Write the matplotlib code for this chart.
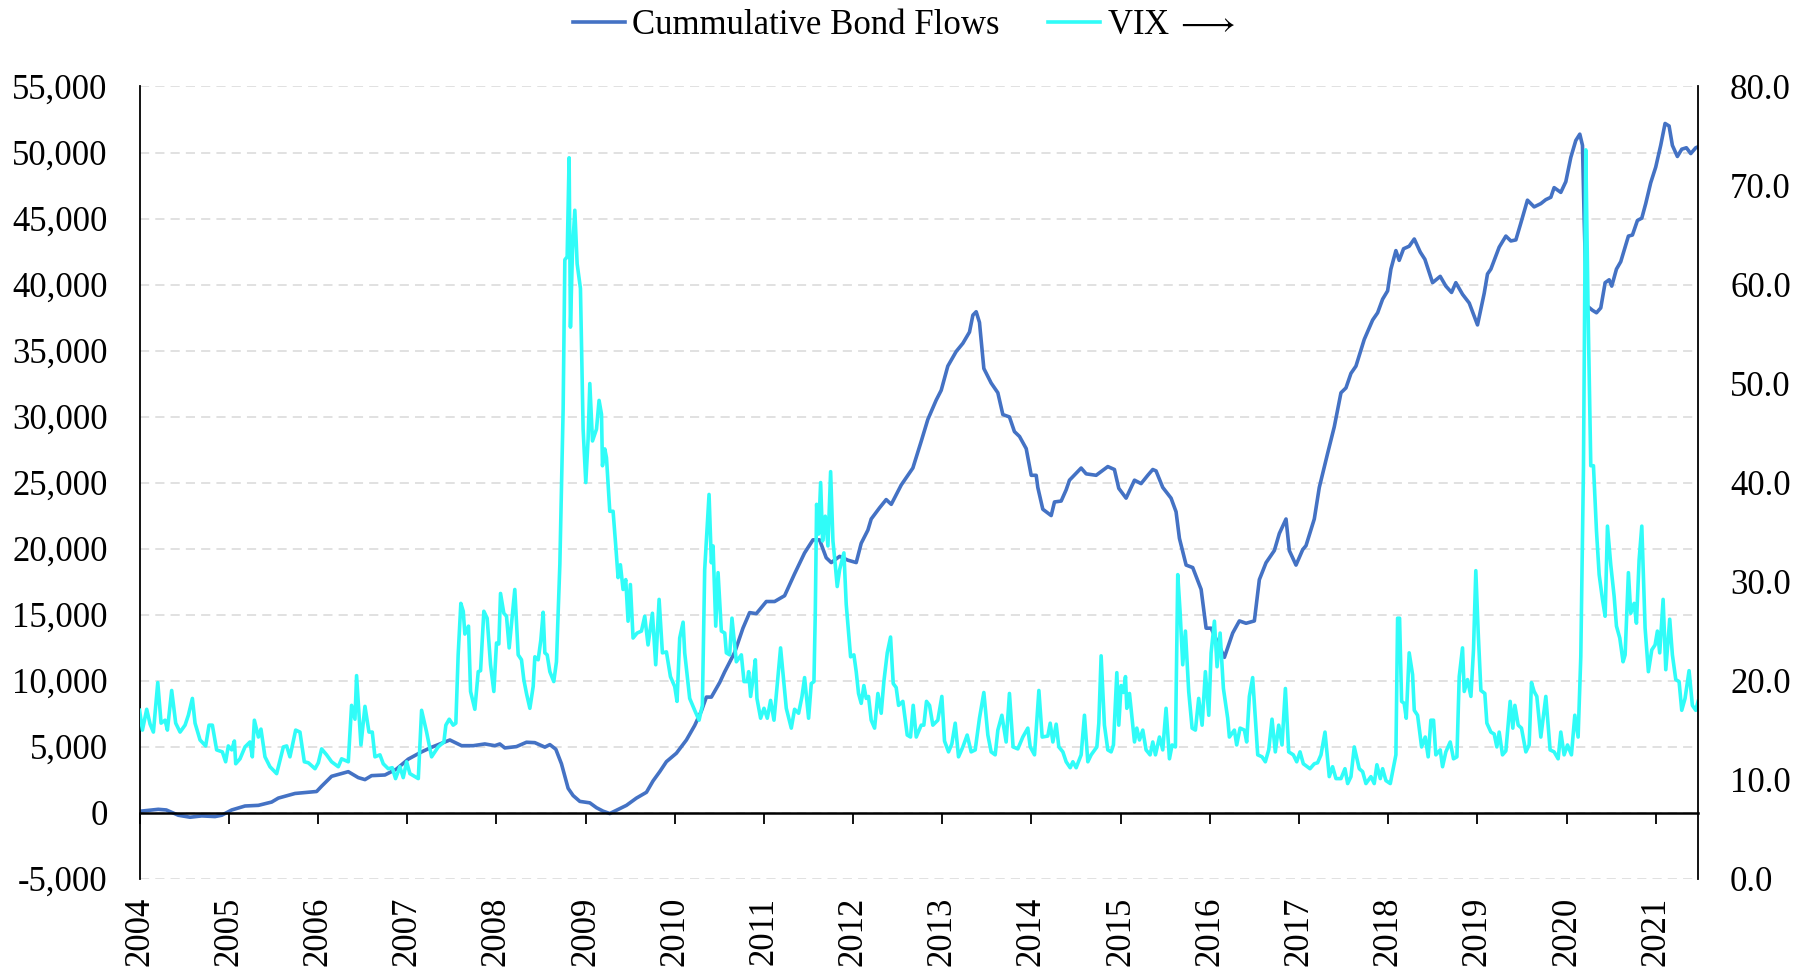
import matplotlib.pyplot as plt
from matplotlib.ticker import FuncFormatter, MultipleLocator

plt.rcParams['font.family'] = ['Liberation Serif', 'DejaVu Serif']
plt.rcParams['mathtext.fontset'] = 'stix'

# cumulative bond flows (left axis), x in decimal years
bond_years = [
    2004.000, 2004.210, 2004.300, 2004.435, 2004.566, 2004.697, 2004.846, 2004.921,
    2005.033, 2005.182, 2005.332, 2005.481, 2005.556, 2005.743, 2005.985, 2006.041,
    2006.153, 2006.340, 2006.452, 2006.527, 2006.601, 2006.751, 2006.881, 2007.012,
    2007.162, 2007.274, 2007.479, 2007.610, 2007.741, 2007.871, 2007.983, 2008.039,
    2008.095, 2008.226, 2008.338, 2008.431, 2008.544, 2008.600, 2008.667, 2008.730,
    2008.805, 2008.861, 2008.936, 2009.048, 2009.123, 2009.197, 2009.272, 2009.347,
    2009.459, 2009.571, 2009.683, 2009.757, 2009.832, 2009.907, 2010.019, 2010.131,
    2010.224, 2010.299, 2010.355, 2010.411, 2010.504, 2010.560, 2010.672, 2010.765,
    2010.840, 2010.915, 2011.027, 2011.120, 2011.232, 2011.344, 2011.456, 2011.550,
    2011.624, 2011.699, 2011.755, 2011.849, 2011.942, 2012.035, 2012.091, 2012.166,
    2012.203, 2012.297, 2012.371, 2012.428, 2012.540, 2012.670, 2012.764, 2012.838,
    2012.932, 2012.988, 2013.062, 2013.156, 2013.231, 2013.305, 2013.343, 2013.380,
    2013.417, 2013.466, 2013.548, 2013.623, 2013.679, 2013.753, 2013.809, 2013.866,
    2013.941, 2013.997, 2014.053, 2014.071, 2014.127, 2014.221, 2014.258, 2014.333,
    2014.389, 2014.426, 2014.557, 2014.613, 2014.725, 2014.856, 2014.930, 2014.979,
    2015.061, 2015.155, 2015.229, 2015.304, 2015.360, 2015.397, 2015.472, 2015.565,
    2015.621, 2015.659, 2015.734, 2015.808, 2015.902, 2015.958, 2016.014, 2016.163,
    2016.256, 2016.331, 2016.406, 2016.499, 2016.555, 2016.630, 2016.723, 2016.779,
    2016.854, 2016.891, 2016.966, 2017.041, 2017.078, 2017.171, 2017.227, 2017.320,
    2017.395, 2017.470, 2017.526, 2017.582, 2017.638, 2017.731, 2017.825, 2017.881,
    2017.937, 2017.993, 2018.030, 2018.086, 2018.123, 2018.172, 2018.235, 2018.292,
    2018.359, 2018.411, 2018.497, 2018.583, 2018.646, 2018.710, 2018.758, 2018.833,
    2018.908, 2019.001, 2019.076, 2019.113, 2019.151, 2019.244, 2019.319, 2019.375,
    2019.431, 2019.487, 2019.561, 2019.636, 2019.711, 2019.767, 2019.823, 2019.860,
    2019.935, 2019.991, 2020.047, 2020.103, 2020.148, 2020.178, 2020.196, 2020.223,
    2020.290, 2020.335, 2020.383, 2020.432, 2020.477, 2020.506, 2020.559, 2020.607,
    2020.656, 2020.693, 2020.738, 2020.794, 2020.843, 2020.887, 2020.943, 2020.999,
    2021.055, 2021.104, 2021.149, 2021.186, 2021.242, 2021.291, 2021.343, 2021.392,
    2021.448, 2021.474,
]
bond_flows = [
    100, 250, 200, -200, -350, -250, -300, -200,
    200, 500, 550, 800, 1100, 1450, 1600, 2000,
    2750, 3100, 2650, 2500, 2800, 2850, 3300, 4050,
    4600, 4950, 5500, 5070, 5070, 5200, 5070, 5200,
    4900, 5000, 5330, 5300, 4960, 5150, 4800, 3700,
    1840, 1290, 850, 740, 370, 110, -70, 180,
    550, 1100, 1540, 2400, 3100, 3860, 4500, 5500,
    6600, 7700, 8750, 8750, 9850, 10660, 12130, 13970,
    15150, 15070, 15990, 15990, 16430, 18090, 19670, 20660,
    20660, 19300, 18940, 19410, 19120, 18940, 20400, 21400,
    22240, 23090, 23710, 23350, 24820, 26100, 28130, 29780,
    31250, 31990, 33820, 34930, 35550, 36400, 37680, 37940,
    37130, 33640, 32540, 31800, 30150, 29970, 28860, 28490,
    27570, 25550, 25550, 24630, 22980, 22500, 23530, 23600,
    24450, 25180, 26100, 25660, 25550, 26210, 25990, 24560,
    23820, 25180, 24920, 25550, 25990, 25880, 24630, 23820,
    22790, 20770, 18750, 18560, 16910, 13970, 13970, 11760,
    13600, 14520, 14340, 14520, 17650, 18930, 19850, 21140,
    22240, 19850, 18750, 19920, 20220, 22240, 24630, 27200,
    29220, 31800, 32170, 33270, 33820, 35840, 37310, 37860,
    38890, 39520, 41170, 42570, 41830, 42710, 42900, 43450,
    42460, 41910, 40140, 40620, 39880, 39400, 40140, 39260,
    38600, 36940, 39330, 40800, 41170, 42830, 43670, 43300,
    43380, 44660, 46390, 45880, 46130, 46430, 46610, 47340,
    46980, 47790, 49630, 50910, 51390, 50540, 45200, 38420,
    38050, 37860, 38230, 40140, 40360, 39880, 41170, 41730,
    42830, 43670, 43750, 44850, 45030, 46130, 47710, 48890,
    50540, 52200, 52010, 50540, 49700, 50250, 50360, 49920,
    50360, 50430,
]

# VIX (right axis)
vix_years = [
    2004.000, 2004.032, 2004.080, 2004.118, 2004.155, 2004.204, 2004.241, 2004.286,
    2004.312, 2004.360, 2004.405, 2004.454, 2004.510, 2004.547, 2004.592, 2004.622,
    2004.678, 2004.741, 2004.779, 2004.816, 2004.864, 2004.928, 2004.965, 2004.995,
    2005.033, 2005.063, 2005.078, 2005.126, 2005.182, 2005.238, 2005.264, 2005.287,
    2005.332, 2005.361, 2005.406, 2005.462, 2005.537, 2005.612, 2005.649, 2005.686,
    2005.750, 2005.798, 2005.847, 2005.892, 2005.967, 2006.004, 2006.041, 2006.097,
    2006.153, 2006.228, 2006.265, 2006.340, 2006.377, 2006.415, 2006.433, 2006.482,
    2006.527, 2006.572, 2006.609, 2006.639, 2006.695, 2006.732, 2006.788, 2006.833,
    2006.870, 2006.919, 2006.956, 2006.994, 2007.031, 2007.125, 2007.162, 2007.218,
    2007.274, 2007.348, 2007.412, 2007.434, 2007.472, 2007.516, 2007.546, 2007.572,
    2007.602, 2007.629, 2007.647, 2007.688, 2007.711, 2007.759, 2007.797, 2007.823,
    2007.860, 2007.897, 2007.935, 2007.972, 2008.002, 2008.028, 2008.047, 2008.084,
    2008.114, 2008.144, 2008.207, 2008.245, 2008.282, 2008.308, 2008.338, 2008.376,
    2008.413, 2008.432, 2008.469, 2008.499, 2008.525, 2008.544, 2008.570, 2008.600,
    2008.644, 2008.674, 2008.712, 2008.749, 2008.768, 2008.794, 2008.816, 2008.831,
    2008.854, 2008.880, 2008.906, 2008.943, 2008.973, 2009.003, 2009.029, 2009.048,
    2009.078, 2009.123, 2009.152, 2009.179, 2009.190, 2009.216, 2009.235, 2009.272,
    2009.309, 2009.339, 2009.365, 2009.391, 2009.421, 2009.451, 2009.477, 2009.503,
    2009.533, 2009.578, 2009.627, 2009.664, 2009.701, 2009.750, 2009.787, 2009.825,
    2009.862, 2009.907, 2009.952, 2010.000, 2010.026, 2010.056, 2010.094, 2010.112,
    2010.168, 2010.224, 2010.273, 2010.310, 2010.336, 2010.385, 2010.411, 2010.430,
    2010.460, 2010.486, 2010.523, 2010.561, 2010.579, 2010.616, 2010.642, 2010.691,
    2010.747, 2010.777, 2010.814, 2010.829, 2010.851, 2010.877, 2010.904, 2010.922,
    2010.963, 2011.001, 2011.038, 2011.075, 2011.113, 2011.150, 2011.187, 2011.225,
    2011.251, 2011.307, 2011.344, 2011.389, 2011.427, 2011.456, 2011.501, 2011.531,
    2011.561, 2011.576, 2011.591, 2011.613, 2011.636, 2011.658, 2011.688, 2011.718,
    2011.748, 2011.774, 2011.800, 2011.822, 2011.849, 2011.897, 2011.923, 2011.972,
    2012.009, 2012.035, 2012.061, 2012.091, 2012.121, 2012.147, 2012.173, 2012.203,
    2012.241, 2012.278, 2012.315, 2012.345, 2012.383, 2012.420, 2012.450, 2012.483,
    2012.510, 2012.558, 2012.607, 2012.644, 2012.674, 2012.708, 2012.764, 2012.793,
    2012.823, 2012.857, 2012.894, 2012.950, 2012.995, 2013.025, 2013.070, 2013.107,
    2013.145, 2013.182, 2013.231, 2013.279, 2013.324, 2013.369, 2013.417, 2013.466,
    2013.511, 2013.548, 2013.593, 2013.623, 2013.668, 2013.716, 2013.753, 2013.794,
    2013.847, 2013.903, 2013.959, 2013.986, 2014.034, 2014.083, 2014.120, 2014.183,
    2014.210, 2014.240, 2014.277, 2014.307, 2014.352, 2014.389, 2014.434, 2014.464,
    2014.501, 2014.557, 2014.594, 2014.632, 2014.669, 2014.733, 2014.755, 2014.781,
    2014.818, 2014.856, 2014.893, 2014.919, 2014.957, 2014.979, 2015.005, 2015.031,
    2015.054, 2015.069, 2015.099, 2015.155, 2015.181, 2015.211, 2015.248, 2015.285,
    2015.330, 2015.360, 2015.390, 2015.435, 2015.472, 2015.509, 2015.547, 2015.577,
    2015.614, 2015.640, 2015.666, 2015.696, 2015.726, 2015.763, 2015.801, 2015.838,
    2015.875, 2015.913, 2015.950, 2015.988, 2016.014, 2016.051, 2016.081, 2016.115,
    2016.152, 2016.200, 2016.219, 2016.275, 2016.301, 2016.339, 2016.387, 2016.413,
    2016.443, 2016.480, 2016.537, 2016.585, 2016.622, 2016.660, 2016.697, 2016.734,
    2016.772, 2016.809, 2016.847, 2016.884, 2016.936, 2016.974, 2017.011, 2017.048,
    2017.123, 2017.171, 2017.208, 2017.246, 2017.291, 2017.339, 2017.376, 2017.414,
    2017.470, 2017.515, 2017.545, 2017.582, 2017.619, 2017.675, 2017.713, 2017.750,
    2017.806, 2017.843, 2017.873, 2017.911, 2017.937, 2017.974, 2018.023, 2018.060,
    2018.086, 2018.105, 2018.127, 2018.150, 2018.179, 2018.202, 2018.235, 2018.273,
    2018.292, 2018.329, 2018.374, 2018.415, 2018.448, 2018.478, 2018.508, 2018.534,
    2018.583, 2018.609, 2018.646, 2018.695, 2018.732, 2018.770, 2018.796, 2018.833,
    2018.852, 2018.889, 2018.927, 2018.956, 2018.982, 2019.009, 2019.039, 2019.083,
    2019.106, 2019.151, 2019.188, 2019.218, 2019.244, 2019.281, 2019.319, 2019.367,
    2019.397, 2019.420, 2019.457, 2019.494, 2019.543, 2019.580, 2019.606, 2019.636,
    2019.666, 2019.711, 2019.767, 2019.815, 2019.860, 2019.905, 2019.935, 2019.972,
    2020.010, 2020.054, 2020.092, 2020.129, 2020.159, 2020.189, 2020.215, 2020.241,
    2020.271, 2020.301, 2020.335, 2020.365, 2020.402, 2020.432, 2020.458, 2020.495,
    2020.533, 2020.559, 2020.596, 2020.633, 2020.656, 2020.693, 2020.719, 2020.757,
    2020.783, 2020.813, 2020.843, 2020.880, 2020.917, 2020.955, 2020.992, 2021.018,
    2021.044, 2021.082, 2021.112, 2021.156, 2021.186, 2021.224, 2021.261, 2021.291,
    2021.328, 2021.373, 2021.410, 2021.448, 2021.474,
]
vix = [
    17.0, 15.0, 17.1, 15.6, 14.8, 19.8, 15.7, 16.0,
    15.0, 19.0, 15.7, 14.8, 15.5, 16.5, 18.2, 15.7,
    14.0, 13.4, 15.5, 15.5, 13.0, 12.8, 11.8, 13.4,
    13.0, 13.9, 11.6, 12.1, 13.3, 13.8, 12.3, 16.0,
    14.3, 15.1, 12.3, 11.3, 10.6, 13.3, 13.4, 12.3,
    15.0, 14.8, 11.8, 11.7, 11.1, 11.7, 13.1, 12.5,
    11.8, 11.3, 12.1, 11.8, 17.5, 16.1, 20.5, 13.5,
    17.4, 14.8, 14.8, 12.3, 12.5, 11.6, 11.1, 11.2,
    10.1, 11.3, 10.2, 11.8, 10.6, 10.1, 17.0, 14.8,
    12.3, 13.3, 13.8, 15.5, 16.1, 15.5, 15.7, 22.6,
    27.8, 27.0, 24.7, 25.5, 18.9, 17.1, 20.9, 21.0,
    27.0, 26.3, 21.6, 18.9, 23.8, 23.7, 28.8, 26.8,
    26.5, 23.3, 29.2, 22.6, 22.1, 20.1, 18.7, 17.2,
    19.4, 22.4, 22.1, 24.1, 26.9, 22.8, 22.6, 20.9,
    19.9, 21.9, 31.7, 47.4, 62.5, 62.8, 72.8, 55.7,
    63.5, 67.5, 62.1, 59.6, 45.4, 40.0, 44.4, 50.0,
    44.2, 45.4, 48.3, 46.9, 41.7, 43.4, 42.5, 37.1,
    37.1, 33.6, 30.4, 31.7, 29.2, 30.2, 26.0, 29.7,
    24.3, 24.8, 25.0, 26.5, 23.6, 26.8, 21.6, 28.2,
    22.8, 22.9, 20.4, 19.4, 17.9, 24.3, 25.9, 22.8,
    18.2, 17.0, 16.0, 17.5, 31.2, 38.8, 31.9, 33.6,
    25.5, 30.9, 25.0, 24.8, 22.8, 22.6, 26.3, 21.9,
    22.6, 19.9, 19.9, 20.9, 18.4, 20.1, 22.1, 18.2,
    16.2, 17.2, 16.2, 18.0, 16.0, 19.7, 23.3, 19.7,
    17.2, 15.2, 17.1, 16.7, 18.4, 20.3, 16.2, 19.7,
    19.9, 26.8, 37.8, 34.8, 40.0, 34.1, 36.6, 33.6,
    41.1, 34.1, 31.7, 29.5, 31.2, 32.9, 27.7, 22.4,
    22.6, 20.9, 18.7, 17.7, 19.5, 18.2, 18.4, 16.0,
    15.2, 18.7, 16.7, 19.9, 22.8, 24.4, 19.7, 19.3,
    17.5, 17.9, 14.5, 14.3, 17.5, 14.3, 15.5, 15.5,
    17.9, 17.5, 15.5, 16.0, 18.4, 13.9, 12.8, 13.6,
    15.7, 12.3, 13.3, 14.5, 12.8, 13.0, 16.2, 18.8,
    14.5, 12.8, 12.5, 15.0, 16.5, 13.8, 18.7, 13.3,
    13.1, 14.3, 15.2, 13.3, 12.5, 19.0, 14.3, 14.4,
    15.7, 13.8, 15.6, 13.3, 12.8, 11.8, 11.2, 11.8,
    11.2, 12.5, 16.5, 11.8, 12.5, 13.3, 15.7, 22.5,
    15.5, 13.0, 12.8, 13.5, 20.8, 15.5, 19.5, 18.8,
    20.4, 17.2, 18.7, 13.8, 15.2, 14.0, 15.0, 13.0,
    12.5, 13.8, 12.5, 14.3, 13.0, 17.2, 12.1, 13.5,
    13.3, 30.7, 27.0, 21.6, 25.0, 18.9, 15.2, 15.0,
    18.2, 15.5, 20.9, 16.5, 22.8, 26.0, 21.4, 24.8,
    19.2, 16.2, 14.3, 15.0, 13.5, 15.2, 15.0, 13.8,
    18.4, 20.3, 12.5, 12.3, 11.8, 13.0, 16.1, 12.8,
    15.5, 13.5, 19.2, 12.8, 12.5, 11.8, 12.8, 11.6,
    11.1, 11.6, 11.7, 12.5, 14.8, 10.3, 11.3, 10.1,
    10.1, 11.1, 9.6, 10.3, 13.3, 11.1, 10.8, 9.6,
    10.3, 9.6, 11.5, 10.1, 11.1, 9.9, 9.6, 11.3,
    12.5, 26.3, 26.3, 17.9, 17.7, 16.2, 22.8, 20.6,
    17.0, 16.5, 13.3, 14.3, 12.3, 16.0, 16.0, 12.5,
    13.0, 11.3, 12.8, 13.8, 12.1, 12.3, 20.4, 23.3,
    18.9, 20.1, 18.4, 23.1, 31.1, 24.8, 19.0, 18.7,
    15.7, 14.8, 14.6, 13.3, 14.8, 12.5, 12.9, 17.9,
    15.2, 17.5, 15.5, 15.2, 12.8, 13.5, 19.8, 18.9,
    18.4, 14.3, 18.4, 13.0, 12.8, 12.1, 14.8, 12.5,
    13.5, 12.5, 16.5, 14.3, 22.4, 41.5, 73.6, 57.2,
    41.7, 41.7, 35.1, 30.7, 28.2, 26.5, 35.6, 31.7,
    28.5, 25.5, 24.3, 21.9, 22.6, 30.9, 26.8, 27.8,
    25.8, 32.2, 35.6, 25.3, 20.9, 23.1, 23.6, 25.0,
    22.8, 28.2, 21.1, 26.2, 22.6, 20.1, 19.9, 17.0,
    18.2, 21.0, 17.5, 17.0, 17.9,
]

years = list(range(2004, 2022))

fig = plt.figure(figsize=(18.08, 9.73), dpi=100)
ax = fig.add_axes([0.0772, 0.0970, 0.862, 0.8141])
ax2 = ax.twinx()

l1, = ax.plot(bond_years, bond_flows, color='#4472C4', lw=2.6, label='Cummulative Bond Flows')
l2, = ax2.plot(vix_years, vix, color='#30FCF8', lw=2.6, label=r'VIX$\;\longrightarrow$')

ax.set_xlim(2004.0, 2021.474)
ax.set_ylim(-5000, 55000)
ax2.set_ylim(0, 80)

ax.yaxis.set_major_locator(MultipleLocator(5000))
ax.yaxis.set_major_formatter(FuncFormatter(lambda v, p: f'{int(v):,}'))
ax2.yaxis.set_major_locator(MultipleLocator(10))
ax2.yaxis.set_major_formatter(FuncFormatter(lambda v, p: f'{v:.1f}'))

ax.grid(axis='y', color='#D9D9D9', lw=1.1, linestyle=(0, (6, 4)))
ax.set_axisbelow(True)

# x axis line sits at zero, labels stay at the bottom
ax.spines['top'].set_position(('data', 0))
ax.spines['top'].set_linewidth(1.8)
ax.spines['bottom'].set_visible(False)
ax.spines['right'].set_visible(False)
ax.spines['left'].set_linewidth(1.3)
for s in ['top', 'bottom', 'left']:
    ax2.spines[s].set_visible(False)
ax2.spines['right'].set_linewidth(1.3)

ax.set_xticks(years)
ax.set_xticklabels([str(y) for y in years], rotation=90)
ax.tick_params(axis='x', bottom=False, top=True, labelbottom=True, labeltop=False,
               direction='in', length=8, width=1.3, labelsize=25, pad=13)
ax.tick_params(axis='y', length=0, labelsize=25, pad=23)
ax2.tick_params(axis='y', length=0, labelsize=25, pad=23)

fig.legend(handles=[l1, l2], loc='center', bbox_to_anchor=(0.5, 0.974), ncol=2,
           frameon=False, fontsize=25, handlelength=1.5, handletextpad=0.2,
           columnspacing=1.4)

fig.savefig('out.png', dpi=100)
